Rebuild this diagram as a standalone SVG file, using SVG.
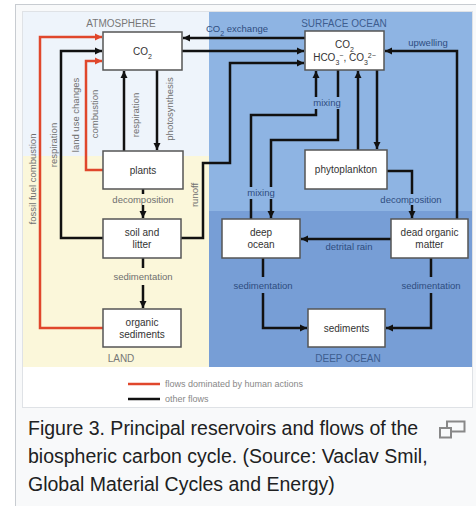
<svg xmlns="http://www.w3.org/2000/svg" width="476" height="506" viewBox="0 0 476 506">
<defs>
<marker id="ak" markerUnits="userSpaceOnUse" markerWidth="8" markerHeight="8" refX="7" refY="4" orient="auto"><path d="M0,0.5 L7,4 L0,7.5 z" fill="#111"/></marker>
<marker id="ar" markerUnits="userSpaceOnUse" markerWidth="8" markerHeight="8" refX="7" refY="4" orient="auto"><path d="M0,0.5 L7,4 L0,7.5 z" fill="#e0472c"/></marker>
</defs>
<style>
.box{fill:#fff;stroke:#555;stroke-width:1.5}
.t{font-family:"Liberation Sans",Arial,sans-serif;text-anchor:middle}
.nt{font-size:10px;fill:#333}
.lb{font-size:9.5px;fill:#6f6f6f}
.lo{font-size:9.5px;fill:#2e4d80}
.rg{font-size:10px;fill:#777}
.ro{font-size:10px;fill:#3d5d8f}
.k{fill:none;stroke:#111;stroke-width:2.5}
.r{fill:none;stroke:#e0472c;stroke-width:2.5}
.ka{marker-end:url(#ak)}
.ra{marker-end:url(#ar)}
.cap{font-family:"Liberation Sans",Arial,sans-serif;font-size:19.5px;fill:#202122}
</style>
<rect x="0" y="0" width="476" height="506" fill="#fff"/>
<rect x="15.5" y="4.5" width="470" height="510" fill="#f8f9fa" stroke="#c8ccd1"/>
<rect x="22.5" y="11.5" width="450" height="396" fill="#fff" stroke="#dfe2e6"/>
<g id="regions">
<rect x="23" y="12" width="186" height="144" fill="#eef4fb"/>
<rect x="23" y="156" width="186" height="211" fill="#fbf7da"/>
<rect x="209" y="12" width="263" height="199" fill="#8eb4e3"/>
<rect x="209" y="211" width="263" height="156" fill="#779ed6"/>
<text class="t rg" x="121" y="26.5">ATMOSPHERE</text>
<text class="t ro" x="344" y="26.5">SURFACE OCEAN</text>
<text class="t rg" x="121" y="362">LAND</text>
<text class="t ro" x="348" y="362">DEEP OCEAN</text>
</g>
<g id="connectors">
<path class="r ra" d="M103,328 H40 V37 H102"/>
<path class="k ka" d="M103,238 H61 V51 H102"/>
<path class="r ra" d="M103,170 H86 V61 H102"/>
<path class="k ka" d="M124,151 V71"/>
<path class="k ka" d="M157,70 V150"/>
<path class="k" d="M143,189 V194"/>
<path class="k ka" d="M143,205 V218"/>
<path class="k" d="M143,258 V268"/>
<path class="k ka" d="M143,285 V308"/>
<path class="k ka" d="M181,238 H203 V163 H230 V63 H304"/>
<path class="k ka" d="M305,38 H183"/>
<path class="k ka" d="M182,51 H304"/>
<path class="k" d="M251,219 V199"/>
<path class="k" d="M251,187 V115 H316 V109"/>
<path class="k ka" d="M316,97 V71"/>
<path class="k" d="M338,70 V97"/>
<path class="k" d="M338,109 V140 H271 V187"/>
<path class="k ka" d="M271,199 V218"/>
<path class="k ka" d="M358,150 V71"/>
<path class="k ka" d="M377,70 V149"/>
<path class="k" d="M387,171 H412 V194"/>
<path class="k ka" d="M412,205 V218"/>
<path class="k ka" d="M457,219 V51 H385"/>
<path class="k ka" d="M391,239 H301"/>
<path class="k" d="M263,258 V277"/>
<path class="k ka" d="M263,293 V328 H307"/>
<path class="k" d="M431,258 V277"/>
<path class="k ka" d="M431,293 V328 H386"/>
<text class="t lb" transform="translate(36,179) rotate(-90)">fossil fuel combustion</text>
<text class="t lb" transform="translate(57,145) rotate(-90)">respiration</text>
<text class="t lb" transform="translate(79,115) rotate(-90)">land use changes</text>
<text class="t lb" transform="translate(98,114) rotate(-90)">combustion</text>
<text class="t lb" transform="translate(139,115) rotate(-90)">respiration</text>
<text class="t lb" transform="translate(173,109) rotate(-90)">photosynthesis</text>
<text class="t lb" transform="translate(198,195) rotate(-90)">runoff</text>
<text class="t lb" x="143" y="202.5">decomposition</text>
<text class="t lb" x="143" y="280">sedimentation</text>
<text class="t lo" x="237" y="32">CO<tspan font-size="7" baseline-shift="sub">2</tspan> exchange</text>
<text class="t lo" x="428" y="46">upwelling</text>
<text class="t lo" x="327" y="106">mixing</text>
<text class="t lo" x="261" y="196">mixing</text>
<text class="t lo" x="411" y="203">decomposition</text>
<text class="t lo" x="349" y="250">detrital rain</text>
<text class="t lo" x="263" y="289">sedimentation</text>
<text class="t lo" x="431" y="289">sedimentation</text>
</g>
<g id="atm-co2"><rect class="box" x="103" y="32" width="79" height="38"/><text class="t nt" x="142.5" y="55">CO<tspan font-size="7" baseline-shift="sub">2</tspan></text></g>
<g id="plants"><rect class="box" x="103" y="151" width="80" height="38"/><text class="t nt" x="143" y="173.5">plants</text></g>
<g id="soil"><rect class="box" x="103" y="219" width="78" height="39"/><text class="t nt" x="142" y="236">soil and</text><text class="t nt" x="142" y="248">litter</text></g>
<g id="organic-sediments"><rect class="box" x="103" y="309" width="78" height="38"/><text class="t nt" x="142" y="326">organic</text><text class="t nt" x="142" y="338">sediments</text></g>
<g id="ocean-co2"><rect class="box" x="305" y="31" width="79" height="39"/><text class="t nt" x="344.5" y="48">CO<tspan font-size="7" baseline-shift="sub">2</tspan></text><text class="t nt" x="344.5" y="61">HCO<tspan font-size="7" baseline-shift="sub">3</tspan><tspan font-size="7" baseline-shift="super">−</tspan>, CO<tspan font-size="7" baseline-shift="sub">3</tspan><tspan font-size="7" baseline-shift="super">2−</tspan></text></g>
<g id="phytoplankton"><rect class="box" x="305" y="150" width="82" height="39"/><text class="t nt" x="346" y="173">phytoplankton</text></g>
<g id="deep-ocean"><rect class="box" x="222" y="219" width="78" height="39"/><text class="t nt" x="261" y="236">deep</text><text class="t nt" x="261" y="248">ocean</text></g>
<g id="dead-organic"><rect class="box" x="391" y="219" width="77" height="39"/><text class="t nt" x="429.5" y="236">dead organic</text><text class="t nt" x="429.5" y="248">matter</text></g>
<g id="sediments"><rect class="box" x="308" y="309" width="77" height="38"/><text class="t nt" x="346.5" y="331.5">sediments</text></g>
<g id="legend">
<path d="M128,384 H160" stroke="#e0472c" stroke-width="2.5"/>
<path d="M128,399 H160" stroke="#111" stroke-width="2.5"/>
<text x="165" y="387" font-family="Liberation Sans, Arial, sans-serif" font-size="9" fill="#888">flows dominated by human actions</text>
<text x="165" y="402" font-family="Liberation Sans, Arial, sans-serif" font-size="9" fill="#888">other flows</text>
</g>
<g id="caption">
<text class="cap" x="28" y="435">Figure 3. Principal reservoirs and flows of the</text>
<text class="cap" x="28" y="463">biospheric carbon cycle. (Source: Vaclav Smil,</text>
<text class="cap" x="28" y="491">Global Material Cycles and Energy)</text>
<rect x="447" y="421.5" width="17.5" height="10" fill="none" stroke="#888" stroke-width="2"/>
<rect x="440" y="428" width="11" height="9.5" fill="#f8f9fa" stroke="#888" stroke-width="2"/>
</g>
</svg>
